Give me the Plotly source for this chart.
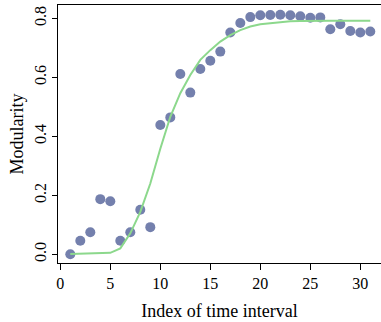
import plotly.graph_objects as go

# data
idx = list(range(1, 32))
modularity = [0.000, 0.046, 0.075, 0.187, 0.180, 0.046, 0.075, 0.151, 0.092, 0.438,
              0.464, 0.611, 0.548, 0.628, 0.656, 0.687, 0.752, 0.784, 0.804, 0.810,
              0.811, 0.812, 0.810, 0.807, 0.802, 0.803, 0.763, 0.780, 0.757, 0.752,
              0.755]
fit = [0.001, 0.002, 0.003, 0.004, 0.005, 0.020, 0.071, 0.144, 0.240, 0.358,
       0.466, 0.546, 0.608, 0.659, 0.692, 0.721, 0.743, 0.760, 0.772, 0.780,
       0.784, 0.787, 0.790, 0.791, 0.792, 0.792, 0.792, 0.792, 0.792, 0.792,
       0.792]
xticks = [0, 5, 10, 15, 20, 25, 30]
yticks = [0.0, 0.2, 0.4, 0.6, 0.8]
ytick_text = ["0.0", "0.2", "0.4", "0.6", "0.8"]

FONT = "Liberation Serif"

fig = go.Figure()
fig.add_trace(go.Scatter(x=idx, y=modularity, mode="markers",
                         marker=dict(size=10, color="#7480ad", line=dict(width=0)),
                         showlegend=False))
fig.add_trace(go.Scatter(x=idx, y=fit, mode="lines",
                         line=dict(color="#8cd88c", width=2),
                         showlegend=False))

fig.update_layout(
    width=381, height=322,
    margin=dict(l=58, r=0, t=5, b=59),
    paper_bgcolor="white", plot_bgcolor="white",
    font=dict(family=FONT, size=16, color="black"),
    xaxis=dict(range=[-0.23, 32.07], tickvals=xticks, ticks="outside", ticklen=6,
               tickcolor="black", showline=True, linecolor="black", linewidth=1,
               mirror=True, showgrid=False, zeroline=False,
               tickfont=dict(family=FONT, size=16),
               title=dict(text="Index of time interval", standoff=13,
                          font=dict(family=FONT, size=18))),
    yaxis=dict(range=[-0.0295, 0.845], tickvals=yticks, ticktext=ytick_text,
               ticks="outside", ticklen=5, tickcolor="black", tickangle=-90,
               showline=True, linecolor="black", linewidth=1, mirror=False,
               showgrid=False, zeroline=False,
               tickfont=dict(family=FONT, size=16),
               title=dict(text="Modularity", standoff=3,
                          font=dict(family=FONT, size=18))),
)

fig.write_html("out.html")
